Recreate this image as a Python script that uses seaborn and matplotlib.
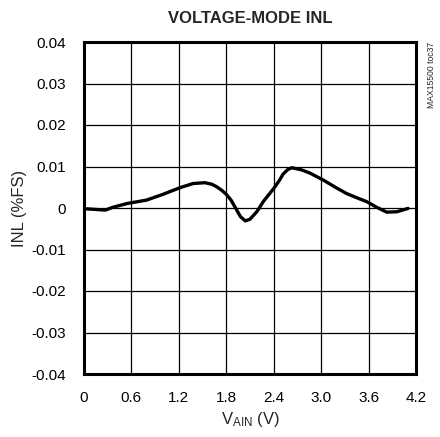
import numpy as np
import pandas as pd
import matplotlib
matplotlib.use("Agg")
import matplotlib.pyplot as plt
import seaborn as sns

# INL curve of the voltage-mode output (x in volts, y in %FS)
vain = [0.03, 0.27, 0.37, 0.55, 0.79, 1.00, 1.215, 1.38, 1.53, 1.62, 1.68,
        1.74, 1.80, 1.86, 1.92, 1.98, 2.04, 2.10, 2.19, 2.27, 2.40, 2.47,
        2.52, 2.58, 2.63, 2.75, 2.86, 3.03, 3.18, 3.32, 3.46, 3.58, 3.70,
        3.83, 3.96, 4.10]
inl = [-0.0002, -0.0005, 0.0002, 0.0011, 0.0019, 0.0033, 0.0049, 0.0059,
       0.0061, 0.0057, 0.0051, 0.0043, 0.0033, 0.0019, -0.0001, -0.0021,
       -0.0031, -0.0027, -0.0008, 0.0016, 0.0047, 0.0066, 0.0082, 0.0093,
       0.0097, 0.0092, 0.0084, 0.0067, 0.0050, 0.0035, 0.0024, 0.0015,
       0.0002, -0.0010, -0.0009, -0.0001]

x_ticks = [0, 0.6, 1.2, 1.8, 2.4, 3.0, 3.6, 4.2]
x_tick_labels = ["0", "0.6", "1.2", "1.8", "2.4", "3.0", "3.6", "4.2"]
y_ticks = [-0.04, -0.03, -0.02, -0.01, 0, 0.01, 0.02, 0.03, 0.04]
y_tick_labels = ["-0.04", "-0.03", "-0.02", "-0.01", "0", "0.01", "0.02", "0.03", "0.04"]

sns.set_style("white")
plt.rcParams["font.family"] = ["Liberation Sans", "DejaVu Sans"]

df = pd.DataFrame({"VAIN": vain, "INL": inl})

fig = plt.figure(figsize=(4.40, 4.37), dpi=100)
ax = fig.add_axes([84 / 440, 1 - 374 / 437, 332 / 440, 332 / 437])

sns.lineplot(data=df, x="VAIN", y="INL", ax=ax, color="black", linewidth=2.4)

ax.set_xlim(0, 4.2)
ax.set_ylim(-0.04, 0.04)
ax.set_xticks(x_ticks)
ax.set_xticklabels(x_tick_labels)
ax.set_yticks(y_ticks)
ax.set_yticklabels(y_tick_labels)
ax.tick_params(axis="x", length=0, labelsize=11, pad=12, colors="black")
ax.tick_params(axis="y", length=0, labelsize=11, pad=13, colors="black")
ax.grid(True, color="black", linewidth=0.9)
for s in ax.spines.values():
    s.set_visible(True)
    s.set_color("black")
    s.set_linewidth(2.2)

ax.set_xlabel(r"$\mathregular{V_{AIN}}$ (V)", fontsize=12, labelpad=4)
ax.set_ylabel("INL (%FS)", fontsize=12, labelpad=3)
ax.set_title("VOLTAGE-MODE INL", fontsize=12, fontweight="bold", pad=14)

fig.text(431 / 440, 1 - 75 / 437, "MAX15500 toc37", rotation=90, fontsize=6.2,
         ha="center", va="center")

fig.savefig("out.png", dpi=100)
